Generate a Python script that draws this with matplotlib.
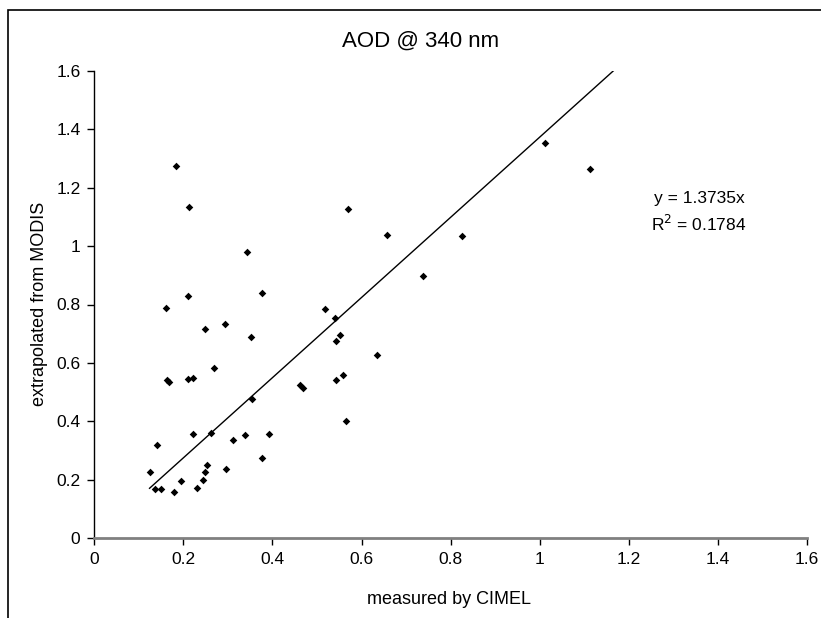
import matplotlib; matplotlib.use("Agg")
import matplotlib.pyplot as plt
import numpy as np
from matplotlib.patches import Rectangle

plt.rcParams["font.family"] = ["Liberation Sans", "DejaVu Sans"]

# AOD at 340 nm: CIMEL measured (x) vs MODIS extrapolated (y)
cimel = [0.184, 0.213, 0.343, 0.377, 0.211, 0.160, 0.518, 0.541, 0.248, 0.294,
         0.351, 0.543, 0.268, 0.163, 0.168, 0.210, 0.221, 0.542, 0.461, 0.469,
         0.124, 0.140, 0.137, 0.150, 0.179, 0.195, 0.221, 0.231, 0.245, 0.248,
         0.253, 0.261, 0.295, 0.311, 0.339, 0.355, 0.377, 0.393,
         0.569, 0.656, 0.825, 0.738, 0.551, 0.635, 0.559, 0.564, 1.011, 1.113]
modis = [1.275, 1.135, 0.980, 0.840, 0.829, 0.788, 0.784, 0.754, 0.715, 0.732,
         0.687, 0.675, 0.582, 0.542, 0.533, 0.546, 0.549, 0.542, 0.525, 0.513,
         0.227, 0.320, 0.167, 0.167, 0.158, 0.194, 0.356, 0.170, 0.199, 0.226,
         0.251, 0.361, 0.235, 0.336, 0.352, 0.477, 0.275, 0.356,
         1.127, 1.038, 1.034, 0.896, 0.695, 0.626, 0.557, 0.401, 1.352, 1.263]
slope = 1.3735
r2 = 0.1784
ticks = [0, 0.2, 0.4, 0.6, 0.8, 1, 1.2, 1.4, 1.6]
tick_labels = ["0", "0.2", "0.4", "0.6", "0.8", "1", "1.2", "1.4", "1.6"]

W, H = 821, 618
fig = plt.figure(figsize=(W / 100, H / 100), dpi=100)
# chart-area border (cropped on right/bottom in the original)
fig.patches.append(Rectangle((8 / W, -0.05), 1.1, (H - 10) / H + 0.05, transform=fig.transFigure,
                             fill=False, edgecolor="black", lw=1.2))

ax = fig.add_axes([94.3 / W, (H - 538) / H, (807 - 94.3) / W, (538 - 71) / H])
ax.scatter(cimel, modis, marker="D", s=15, color="black", zorder=3, linewidths=0)

ymax = 1.6
xl = np.array([min(cimel), ymax / slope])
ax.plot(xl, slope * xl, color="black", lw=1)

ax.set_xlim(0, 1.6); ax.set_ylim(0, 1.6)
ax.set_xticks(ticks); ax.set_xticklabels(tick_labels)
ax.set_yticks(ticks); ax.set_yticklabels(tick_labels)
ax.tick_params(labelsize=12.5, direction="out", length=5, width=1, pad=5)
for s in ("top", "right"):
    ax.spines[s].set_visible(False)
ax.spines["left"].set_color("black"); ax.spines["left"].set_linewidth(1)
ax.spines["bottom"].set_color("#808080"); ax.spines["bottom"].set_linewidth(2)
ax.spines["bottom"].set_zorder(4)

fig.text(421 / W, 1 - 41 / H, "AOD @ 340 nm", ha="center", va="center", fontsize=16)
fig.text(449 / W, 1 - 599 / H, "measured by CIMEL", ha="center", va="center", fontsize=13)
fig.text(39 / W, 1 - 304 / H, "extrapolated from MODIS", ha="center", va="center",
         rotation=90, fontsize=13)
fig.text(699 / W, 1 - 198 / H, f"y = {slope}x", ha="center", va="center", fontsize=12.5)
fig.text(699 / W, 1 - 224 / H, f"R$^2$ = {r2}", ha="center", va="center", fontsize=12.5)

fig.savefig("out.png", dpi=100)
